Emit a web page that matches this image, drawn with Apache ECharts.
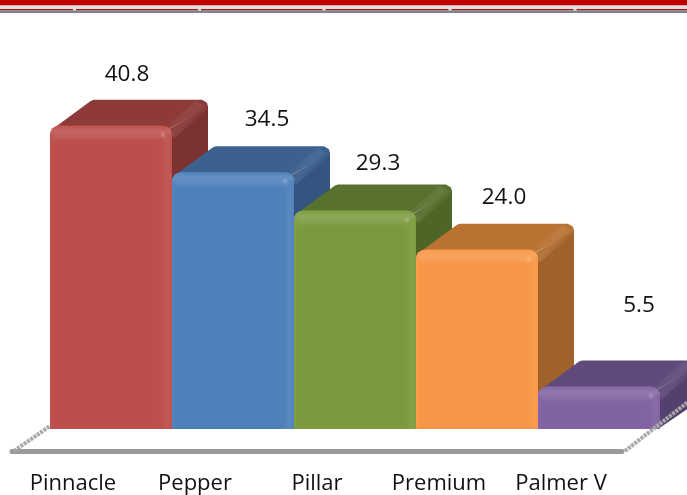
<!DOCTYPE html>
<html><head><meta charset="utf-8">
<style>html,body{margin:0;padding:0;background:#fff}#c{width:687px;height:495px}</style>
<script src="https://cdn.jsdelivr.net/npm/echarts@6/dist/echarts.min.js"></script>
</head><body><div id="c"></div>
<script>
const categories = ['Pinnacle', 'Pepper', 'Pillar', 'Premium', 'Palmer V'];
const values = [40.8, 34.5, 29.3, 24.0, 5.5];
const frontColors = ['#BC4F4C', '#4F80BB', '#7B9A3E', '#F79646', '#8063A1'];
const topColors = ['#8D3A39', '#3C618E', '#58712F', '#B97232', '#604A7B'];
const sideColors = ['#7B3230', '#345580', '#4E6528', '#A0622A', '#54406F'];
const labelShiftX = [54, 72, 61, 65, 78];
const labelShiftY = [-75, -77, -71, -76, -105];
const depthX = 36, depthY = 26, floorX = 38, floorY = 22;
const FONT = '"Open Sans", sans-serif';

const chart = echarts.init(document.getElementById('c'), null, {renderer: 'canvas'});
const G = echarts.graphic;
const lg = (x0, y0, x1, y1, stops) => new G.LinearGradient(x0, y0, x1, y1, stops.map(s => ({offset: s[0], color: s[1]})));
const alpha = (c, a) => echarts.color.modifyAlpha(c, a);
const lift = (c, l) => echarts.color.lift(c, l);

function renderBar(params, api) {
  const i = params.dataIndex;
  const v = api.value(1);
  const p = api.coord([api.value(0), v]);
  const p0 = api.coord([api.value(0), 0]);
  const w = api.size([1, 0])[0];
  const x0 = p[0] - w / 2 + floorX, x1 = x0 + w;
  const base = p0[1] - floorY, top = p[1] - floorY - 2;
  const h = base - top;
  const f = frontColors[i], t = topColors[i], s = sideColors[i];
  const kids = [];
  // side face
  kids.push({type: 'polygon', shape: {points: [[x1 - 2, top + 3], [x1 + depthX, top - depthY + 6], [x1 + depthX, base - depthY], [x1 - 2, base]]},
    style: {fill: s}});
  // top face
  kids.push({type: 'polygon', shape: {points: [[x0 + 3, top + 3], [x0 + depthX + 5, top - depthY + 1], [x0 + depthX + 8, top - depthY], [x1 + depthX - 6, top - depthY], [x1 + depthX - 1, top - depthY + 3], [x1 + depthX, top - depthY + 7], [x1 - 3, top + 3]]},
    style: {fill: t}});
  // soft ridge between top and side
  kids.push({type: 'polygon', shape: {points: [[x1 - 8, top + 2], [x1 + depthX - 12, top - depthY + 1], [x1 + depthX, top - depthY + 9], [x1 + 2, top + 13]]},
    style: {fill: lg(0, 0, 1, 1, [[0.15, alpha(lift(t, 0.1), 0)], [0.5, alpha(lift(t, 0.1), 0.7)], [0.85, alpha(s, 0)]])}});
  // front face
  kids.push({type: 'rect', shape: {x: x0, y: top, width: w, height: h, r: [9, 9, 1, 1]}, style: {fill: f}});
  kids.push({type: 'rect', shape: {x: x0, y: top, width: w, height: Math.min(18, h), r: [9, 9, 0, 0]},
    style: {fill: lg(0, 0, 0, 1, [[0, alpha(lift(f, -0.03), 1)], [0.3, alpha(lift(f, 0.13), 1)], [0.62, alpha(lift(f, 0.09), 1)], [1, alpha(f, 0)]])}});
  kids.push({type: 'rect', shape: {x: x1 - 13, y: top + 8, width: 13, height: h - 8},
    style: {fill: lg(0, 0, 1, 0, [[0, alpha(f, 0)], [0.6, alpha(lift(f, 0.07), 1)], [1, alpha(lift(f, -0.03), 1)]])}});
  kids.push({type: 'rect', shape: {x: x0, y: top + 8, width: 5, height: h - 8},
    style: {fill: lg(0, 0, 1, 0, [[0, alpha(lift(f, -0.05), 1)], [1, alpha(f, 0)]])}});
  // corner glint
  kids.push({type: 'circle', shape: {cx: x1 - 9, cy: top + 9, r: 5},
    style: {fill: new G.RadialGradient(0.5, 0.5, 0.5, [{offset: 0, color: alpha(lift(f, 0.35), 1)}, {offset: 1, color: alpha(lift(f, 0.1), 0)}])}});
  // value label
  kids.push({type: 'text', z2: 50, style: {
    text: values[i].toFixed(1), x: p[0] + labelShiftX[i], y: p[1] + labelShiftY[i],
    align: 'center', verticalAlign: 'middle', fill: '#111', fontSize: 22.5, fontFamily: FONT}});
  return {type: 'group', children: kids};
}

function renderFloorEdges(params, api) {
  const a = api.coord([0, 0]);
  const w = api.size([1, 0])[0];
  const left = a[0] - w / 2, right = left + w * categories.length + 3;
  const line = (x1, y1, x2, y2) => ({type: 'line', shape: {x1, y1, x2, y2},
    style: {stroke: '#A8A8A8', lineWidth: 4, lineDash: [3, 1]}});
  return {type: 'group', children: [
    line(left + 2, a[1], left + floorX, a[1] - floorY - 3),
    line(right, a[1], right + 63, a[1] - 49)
  ]};
}

const band = (y, h, fill) => ({type: 'rect', shape: {x: 0, y, width: 687, height: h}, style: {fill}, silent: true});
const headerTicks = [74.5, 199.5, 324, 450, 575].map(x => ({type: 'rect', shape: {x: x - 1.5, y: 8.5, width: 3, height: 2}, style: {fill: '#E8E8E8'}}));

chart.setOption({
  animation: false,
  backgroundColor: '#fff',
  graphic: [band(0, 5.5, '#C00000'), band(5.5, 3.5, '#DDDDDD'), band(9, 1.5, '#A81818'), band(10.5, 2.5, '#80858A'), ...headerTicks],
  grid: {left: 12, width: 610, top: 30, height: 422},
  xAxis: {type: 'category', data: categories, z: 1,
    axisLine: {show: true, lineStyle: {color: '#9A9A9A', width: 5}},
    axisTick: {show: false},
    axisLabel: {interval: 0, margin: 22, color: '#111', fontSize: 22, fontFamily: FONT}},
  yAxis: {type: 'value', min: 0, max: 57, show: false, splitLine: {show: false}},
  series: [
    {type: 'custom', renderItem: renderBar, clip: false, z: 3, encode: {x: 0, y: 1},
      data: categories.map((c, i) => [i, values[i]])},
    {type: 'custom', renderItem: renderFloorEdges, clip: false, z: 4, silent: true, encode: {x: 0, y: 1},
      data: [[0, 0]]}
  ]
});
</script></body></html>
